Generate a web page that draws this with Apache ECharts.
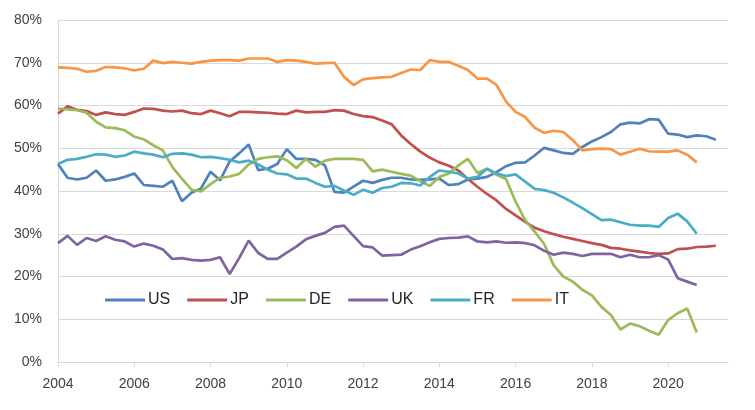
<!DOCTYPE html>
<html>
<head>
<meta charset="utf-8">
<script src="https://cdn.jsdelivr.net/npm/echarts@6/dist/echarts.min.js"></script>
<style>
html,body{margin:0;padding:0;background:#fff;}
#chart{width:755px;height:410px;}
</style>
</head>
<body>
<div id="chart"></div>
<script>
// Quarterly observations, first quarter = 2004 Q1
const startYear = 2004;
const quarterStep = 0.25;

const seriesNames = ['US', 'JP', 'DE', 'UK', 'FR', 'IT'];
const xTickLabels = [2004, 2006, 2008, 2010, 2012, 2014, 2016, 2018, 2020];
const yTickLabels = [0, 10, 20, 30, 40, 50, 60, 70, 80];

const US = [46.3, 43.1, 42.7, 43.1, 44.8, 42.4, 42.7, 43.3, 44.1, 41.4,
  41.2, 41.0, 42.4, 37.6, 39.6, 40.6, 44.5, 42.5, 46.9, 48.8,
  50.9, 44.9, 45.2, 46.3, 49.8, 47.5, 47.5, 47.3, 46.0, 39.8,
  39.6, 41.0, 42.4, 41.9, 42.6, 43.1, 43.1, 42.7, 42.6, 42.7,
  42.9, 41.4, 41.6, 42.7, 42.9, 43.3, 44.4, 45.8, 46.6, 46.7,
  48.3, 50.1, 49.5, 48.9, 48.7, 50.3, 51.6, 52.6, 53.8, 55.6,
  56.0, 55.8, 56.8, 56.7, 53.4, 53.2, 52.6, 53.0, 52.8, 52.0];

const JP = [58.1, 59.8, 59.0, 58.7, 57.8, 58.4, 58.0, 57.8, 58.5, 59.3,
  59.2, 58.8, 58.6, 58.8, 58.2, 58.0, 58.8, 58.2, 57.5, 58.5,
  58.5, 58.4, 58.3, 58.1, 58.0, 58.8, 58.4, 58.5, 58.5, 58.9,
  58.8, 58.0, 57.5, 57.3, 56.5, 55.6, 53.0, 51.0, 49.2, 47.8,
  46.7, 45.9, 44.8, 42.8, 41.0, 39.3, 37.8, 35.8, 34.3, 32.8,
  31.4, 30.6, 29.9, 29.3, 28.8, 28.3, 27.8, 27.4, 26.7, 26.5,
  26.1, 25.8, 25.5, 25.3, 25.4, 26.4, 26.5, 26.9, 27.0, 27.2];

const DE = [59.3, 59.1, 58.9, 58.3, 56.2, 54.9, 54.7, 54.2, 52.7, 52.1,
  50.7, 49.5, 45.6, 42.9, 40.3, 39.9, 41.6, 43.1, 43.4, 44.0,
  46.2, 47.5, 47.9, 48.1, 47.2, 45.4, 47.5, 45.7, 47.1, 47.5,
  47.5, 47.5, 47.3, 44.6, 45.0, 44.5, 44.0, 43.6, 42.3, 41.2,
  43.3, 44.1, 46.0, 47.5, 44.2, 45.2, 43.8, 42.8, 37.5, 33.2,
  30.5, 27.6, 22.6, 20.0, 18.8, 16.9, 15.6, 12.9, 11.0, 7.6,
  9.0, 8.4, 7.3, 6.4, 9.8, 11.4, 12.5, 6.9];

const UK = [27.8, 29.5, 27.4, 29.0, 28.3, 29.4, 28.6, 28.2, 27.0, 27.7,
  27.2, 26.3, 24.1, 24.3, 23.9, 23.7, 23.9, 24.5, 20.6, 24.3,
  28.4, 25.5, 24.1, 24.1, 25.6, 27.0, 28.7, 29.5, 30.2, 31.6,
  31.9, 29.5, 27.1, 26.8, 24.9, 25.0, 25.1, 26.3, 27.1, 28.0,
  28.8, 29.0, 29.1, 29.4, 28.2, 28.0, 28.2, 27.9, 28.0, 27.8,
  27.3, 26.0, 25.1, 25.6, 25.3, 24.8, 25.3, 25.3, 25.3, 24.5,
  25.1, 24.5, 24.5, 25.0, 24.0, 19.6, 18.8, 18.0];

const FR = [46.3, 47.3, 47.5, 48.0, 48.6, 48.5, 48.0, 48.3, 49.2, 48.8,
  48.5, 47.9, 48.7, 48.8, 48.5, 47.9, 48.0, 47.7, 47.3, 46.7,
  47.1, 46.2, 45.0, 44.1, 43.9, 42.9, 42.9, 41.9, 41.0, 41.2,
  40.1, 39.1, 40.3, 39.6, 40.7, 41.0, 41.9, 41.8, 41.3, 43.3,
  44.8, 44.5, 44.1, 42.9, 43.3, 45.2, 44.1, 43.5, 43.9, 42.2,
  40.5, 40.2, 39.6, 38.5, 37.3, 36.0, 34.6, 33.2, 33.3, 32.7,
  32.1, 31.9, 31.9, 31.6, 33.7, 34.7, 32.9, 30.0];

const IT = [68.9, 68.8, 68.6, 67.9, 68.1, 69.0, 68.9, 68.7, 68.2, 68.6,
  70.5, 69.9, 70.2, 70.0, 69.8, 70.2, 70.5, 70.6, 70.6, 70.5,
  71.0, 71.0, 71.0, 70.2, 70.6, 70.5, 70.2, 69.8, 69.9, 70.0,
  66.7, 64.8, 66.1, 66.4, 66.6, 66.7, 67.6, 68.4, 68.3, 70.6,
  70.2, 70.2, 69.3, 68.3, 66.3, 66.3, 64.8, 60.9, 58.5, 57.3,
  54.8, 53.6, 54.1, 53.8, 51.9, 49.5, 49.8, 49.9, 49.8, 48.5,
  49.2, 49.9, 49.3, 49.2, 49.2, 49.5, 48.5, 46.7];

const colors = ['#4F81BD', '#C0504D', '#9BBB59', '#8064A2', '#4BACC6', '#F79646'];
const allValues = [US, JP, DE, UK, FR, IT];

function toPairs(values) {
  return values.map((v, i) => [startYear + i * quarterStep, v]);
}

const chart = echarts.init(document.getElementById('chart'), null, {renderer: 'canvas'});
const labelFont = {fontFamily: 'Liberation Sans, Arial, sans-serif', fontSize: 14, color: '#404040'};

chart.setOption({
  animation: false,
  backgroundColor: '#ffffff',
  color: colors,
  grid: {left: 58, right: 27, top: 20, bottom: 48, containLabel: false},
  legend: {
    data: seriesNames,
    left: 100,
    top: 287,
    icon: 'rect',
    itemWidth: 40,
    itemHeight: 3,
    itemGap: 17,
    textStyle: {fontFamily: 'Liberation Sans, Arial, sans-serif', fontSize: 16, color: '#262626', padding: [0, 0, 0, -2]}
  },
  xAxis: {
    type: 'value',
    min: 2004,
    max: 2021.57,
    interval: 2,
    axisLine: {show: true, lineStyle: {color: '#D9D9D9', width: 1}},
    axisTick: {show: true, length: 5, lineStyle: {color: '#D9D9D9'}, customValues: xTickLabels},
    axisLabel: Object.assign({margin: 15, customValues: xTickLabels, formatter: v => String(v)}, labelFont),
    splitLine: {show: false}
  },
  yAxis: {
    type: 'value',
    min: 0,
    max: 80,
    interval: 10,
    axisLine: {show: true, lineStyle: {color: '#D9D9D9', width: 1}},
    axisTick: {show: false},
    axisLabel: Object.assign({margin: 16, formatter: v => yTickLabels.includes(v) ? v + '%' : ''}, labelFont),
    splitLine: {show: true, lineStyle: {color: '#D9D9D9', width: 1}}
  },
  series: seriesNames.map((name, k) => ({
    name: name,
    type: 'line',
    data: toPairs(allValues[k]),
    symbol: 'none',
    showSymbol: false,
    smooth: false,
    lineStyle: {width: 2.7, color: colors[k]},
    itemStyle: {color: colors[k]}
  }))
});
</script>
</body>
</html>
